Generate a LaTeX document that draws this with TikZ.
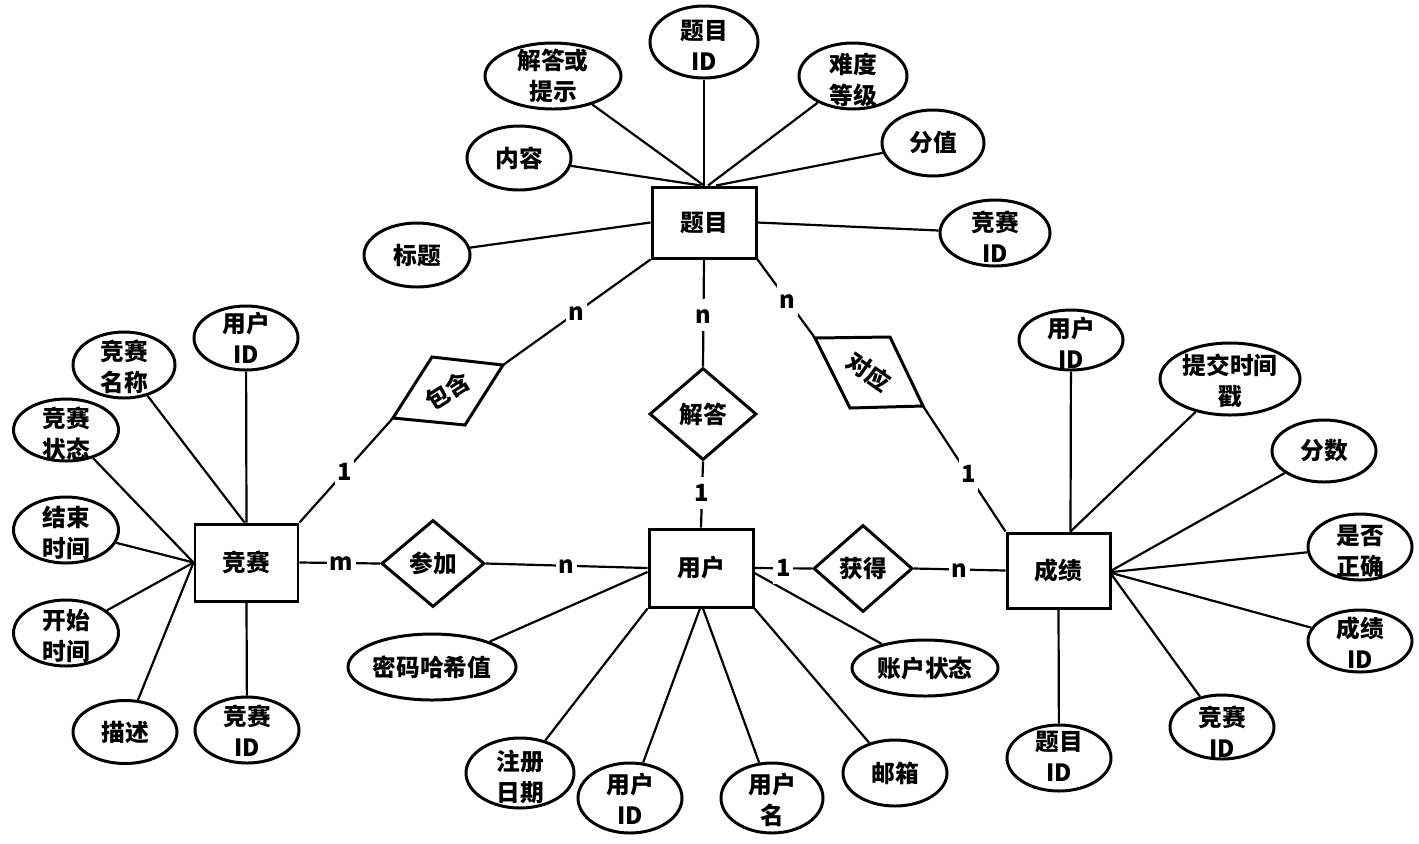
\documentclass[tikz,border=0pt]{standalone}
\usepackage{fontspec}
\setmainfont{Noto Sans CJK SC}
\usetikzlibrary{shapes.geometric}
\newcommand\attrib[7]{%
  \node[attr, minimum width=#4*0.02cm, minimum height=#5*0.02cm] (#1) at (#2,#3) {};
  \node[lbl] (#1-t) at (#2,#6) {#7};}
\tikzset{
  ent/.style={draw, line width=1.7pt, rectangle, inner sep=0, font=\fontsize{13.5}{17.5}\selectfont\bfseries},
  attr/.style={draw, line width=1.7pt, ellipse, inner sep=0},
  lbl/.style={align=center, inner sep=0, font=\fontsize{13.5}{17.5}\selectfont\bfseries},
  rel/.style={draw, line width=1.7pt, diamond, inner sep=0, font=\fontsize{13.5}{17.5}\selectfont\bfseries},
  relshape/.style={draw, line width=1.7pt, line join=miter},
  conn/.style={line width=1.25pt},
  card/.style={fill=white, inner xsep=1.5pt, inner ysep=4pt, text height=9.5pt, text depth=0.5pt, font=\fontsize{13.5}{16}\selectfont\bfseries},
}
\begin{document}
\begin{tikzpicture}[x=0.02cm, y=-0.02cm]
\useasboundingbox (0,0) rectangle (1419,843);

% ---------- entities
\node[ent, minimum width=104*0.02cm, minimum height=71*0.02cm] (tm) at (704,222.5) {题目};
\node[ent, minimum width=103*0.02cm, minimum height=77*0.02cm] (js) at (246.5,562.5) {竞赛};
\node[ent, minimum width=104*0.02cm, minimum height=78*0.02cm] (yh) at (701,568) {用户};
\node[ent, minimum width=103*0.02cm, minimum height=75*0.02cm] (cj) at (1058.5,570.5) {成绩};

% ---------- relationships
\node[rel, minimum width=107*0.02cm, minimum height=92*0.02cm] (jd) at (703,414) {解答};
\node[rel, minimum width=103*0.02cm, minimum height=87*0.02cm] (cjia) at (433,563.5) {参加};
\node[rel, minimum width=99*0.02cm, minimum height=87*0.02cm] (hd) at (863,568.5) {获得};

\coordinate (bh-tl) at (432,357);
\coordinate (bh-tr) at (503,365);
\coordinate (bh-br) at (465,425);
\coordinate (bh-bl) at (393,418);
\draw[relshape] (bh-tl) -- (bh-tr) -- (bh-br) -- (bh-bl) -- cycle;
\node[lbl, rotate=32] (bh) at (448,391) {包含};

\coordinate (dy-tl) at (815,338);
\coordinate (dy-tr) at (890,337);
\coordinate (dy-br) at (923,406);
\coordinate (dy-bl) at (850,408);
\draw[relshape] (dy-tl) -- (dy-tr) -- (dy-br) -- (dy-bl) -- cycle;
\node[lbl, rotate=-35] (dy) at (869,372) {对应};

% ---------- attributes of 题目
\attrib{a-tmid}{704}{42}{108}{72}{45}{题目\\ID}
\attrib{a-jdts}{553}{76}{136}{66}{76}{解答或\\提示}
\attrib{a-ndjb}{853}{76}{108}{66}{80}{难度\\等级}
\attrib{a-fz}{933}{143}{102}{66}{143}{分值}
\attrib{a-nr}{519}{158}{104}{64}{158}{内容}
\attrib{a-tjsid}{995}{233}{110}{66}{237}{竞赛\\ID}
\attrib{a-bt}{417}{255}{106}{64}{255}{标题}

% ---------- attributes of 竞赛
\attrib{a-jyhid}{246}{338}{104}{64}{338}{用户\\ID}
\attrib{a-jsmc}{124}{365}{102}{66}{367}{竞赛\\名称}
\attrib{a-jszt}{66}{430}{105}{62}{434}{竞赛\\状态}
\attrib{a-jssj}{66}{530}{105}{66}{533}{结束\\时间}
\attrib{a-kssj}{66}{633}{105}{66}{636}{开始\\时间}
\attrib{a-ms}{125}{732}{104}{63}{732}{描述}
\attrib{a-jsid}{247}{730}{104}{66}{731}{竞赛\\ID}

% ---------- attributes of 用户
\attrib{a-mm}{432}{667}{168}{66}{667}{密码哈希值}
\attrib{a-zc}{520}{773}{108}{70}{777}{注册\\日期}
\attrib{a-uid}{630}{798}{104}{70}{799}{用户\\ID}
\attrib{a-uname}{772}{798}{102}{70}{800}{用户\\名}
\attrib{a-yx}{895}{773}{104}{66}{773}{邮箱}
\attrib{a-zhzt}{925}{668}{146}{56}{668}{账户状态}

% ---------- attributes of 成绩
\attrib{a-cuid}{1071}{340}{104}{60}{343}{用户\\ID}
\attrib{a-tjsj}{1230}{379}{140}{72}{381}{提交时间\\戳}
\attrib{a-fs}{1324}{451}{104}{62}{451}{分数}
\attrib{a-sfzq}{1360}{547}{104}{66}{551}{是否\\正确}
\attrib{a-cjid}{1360}{641}{104}{62}{643}{成绩\\ID}
\attrib{a-cjsid}{1222}{727}{104}{64}{732}{竞赛\\ID}
\attrib{a-ctid}{1059}{758}{104}{66}{756}{题目\\ID}

% ---------- attribute connectors
\draw[conn] (a-tmid) -- (tm.north);
\draw[conn] (a-jdts) -- (tm.north);
\draw[conn] (a-nr) -- ([xshift=-0.06cm]tm.north);
\draw[conn] (a-ndjb) -- ([xshift=0.08cm]tm.north);
\draw[conn] (a-fz) -- ([xshift=0.24cm]tm.north);
\draw[conn] (a-bt) -- (tm.west);
\draw[conn] (a-tjsid) -- (tm.east);

\draw[conn] (a-jyhid) -- (js.north);
\draw[conn] (a-jsmc) -- ([xshift=-0.04cm]js.north);
\draw[conn] (a-jszt) -- (js.west);
\draw[conn] (a-jssj) -- (js.west);
\draw[conn] (a-kssj) -- (js.west);
\draw[conn] (a-ms) -- (js.west);
\draw[conn] (a-jsid) -- (js.south);

\draw[conn] (a-mm) -- ([yshift=-0.08cm]yh.west);
\draw[conn] (a-zc) -- (yh.south west);
\draw[conn] (a-uid) -- ([xshift=-0.02cm]yh.south);
\draw[conn] (a-uname) -- ([xshift=0.04cm]yh.south);
\draw[conn] (a-yx) -- (yh.south east);
\draw[conn] (a-zhzt) -- ([yshift=-0.1cm]yh.east);

\draw[conn] (a-cuid) -- ([xshift=0.24cm]cj.north);
\draw[conn] (a-tjsj) -- ([xshift=0.24cm]cj.north);
\draw[conn] (a-fs) -- (cj.east);
\draw[conn] (a-sfzq) -- ([yshift=-0.03cm]cj.east);
\draw[conn] (a-cjid) -- ([yshift=-0.05cm]cj.east);
\draw[conn] (a-cjsid) -- ([yshift=-0.08cm]cj.east);
\draw[conn] (a-ctid) -- (cj.south);

% ---------- relationship connectors with cardinalities
\draw[conn] (tm.south west) -- node[card, pos=0.5] (c1) {n} (bh-tr);
\draw[conn] (tm.south) -- node[card, pos=0.52] (c2) {n} (jd.north);
\draw[conn] (tm.south east) -- node[card, pos=0.52] (c3) {n} (dy-tl);
\draw[conn] (js.north east) -- node[card, pos=0.48] (c4) {1} (bh-bl);
\draw[conn] (js.east) -- node[card, pos=0.52] (c5) {m} (cjia.west);
\draw[conn] (cjia.east) -- node[card, pos=0.5] (c6) {n} (yh.west);
\draw[conn] (jd.south) -- node[card, pos=0.48] (c7) {1} (yh.north);
\draw[conn] (yh.east) -- node[card, pos=0.5] (c8) {1} (hd.west);
\draw[conn] (hd.east) -- node[card, pos=0.5] (c9) {n} (cj.west);
\draw[conn] (dy-br) -- node[card, pos=0.55] (c10) {1} (cj.north west);
\end{tikzpicture}
\end{document}
